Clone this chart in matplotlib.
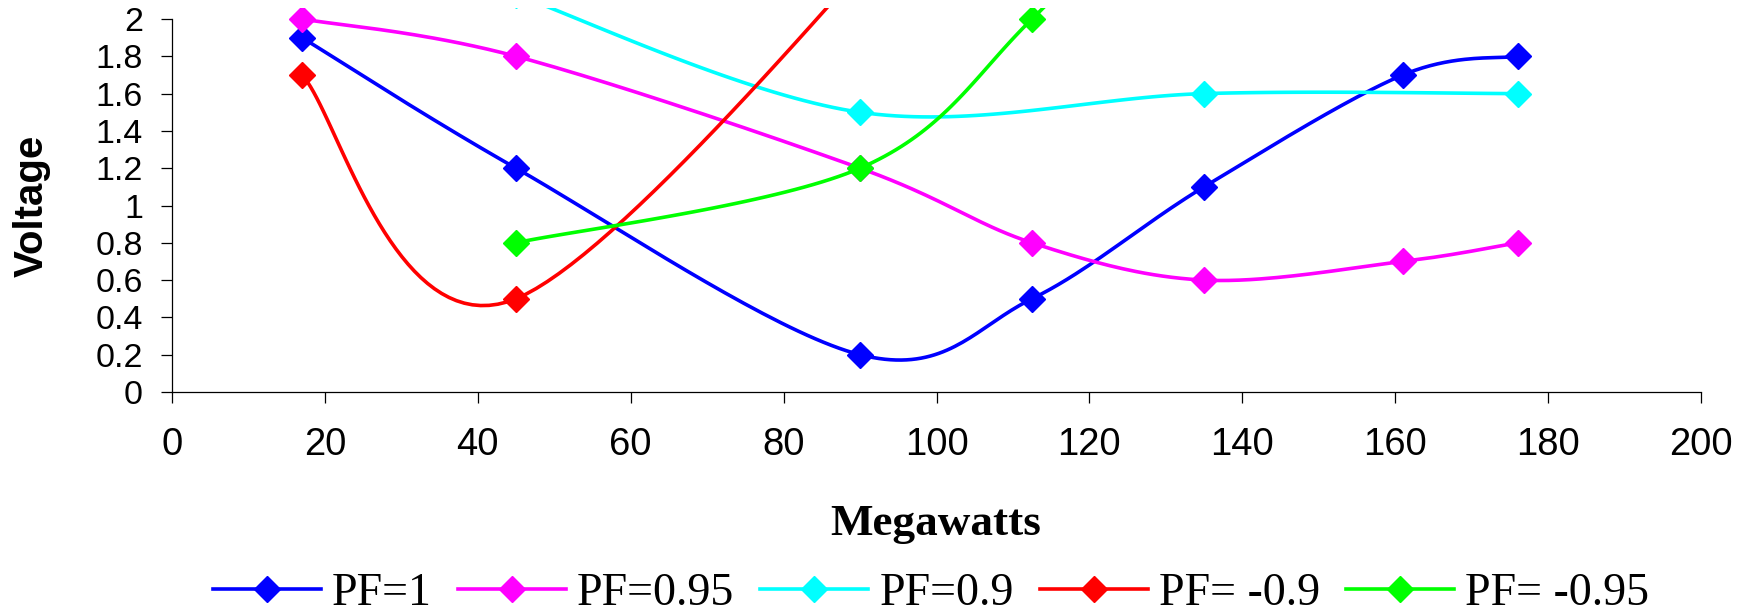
import numpy as np
import matplotlib
matplotlib.use('Agg')
import matplotlib.pyplot as plt
from matplotlib.lines import Line2D

# ---- data ----
x_pf1 = [17, 45, 90, 112.5, 135, 161, 176]
y_pf1 = [1.9, 1.2, 0.2, 0.5, 1.1, 1.7, 1.8]
x_pf095 = [17, 45, 90, 112.5, 135, 161, 176]
y_pf095 = [2.0, 1.8, 1.2, 0.8, 0.6, 0.7, 0.8]
x_pf09 = [45, 90, 135, 176]
y_pf09 = [2.13, 1.5, 1.6, 1.6]
x_pfm09 = [17, 45, 112.5]
y_pfm09 = [1.7, 0.5, 3.3]
x_pfm095 = [45, 90, 112.5, 135]
y_pfm095 = [0.8, 1.2, 2.0, 3.0]

series_labels = ['PF=1', 'PF=0.95', 'PF=0.9', 'PF= -0.9', 'PF= -0.95']
series_colors = ['#0000FF', '#FF00FF', '#00FFFF', '#FF0000', '#00FF00']

x_ticks = [0, 20, 40, 60, 80, 100, 120, 140, 160, 180, 200]
y_ticks = [0, 0.2, 0.4, 0.6, 0.8, 1.0, 1.2, 1.4, 1.6, 1.8, 2.0]
y_tick_labels = ['0', '0.2', '0.4', '0.6', '0.8', '1', '1.2', '1.4', '1.6', '1.8', '2']

x_label = 'Megawatts'
y_label = 'Voltage'


def excel_smooth(xs, ys, n=40):
    """Bezier smoothing similar to Excel's 'smoothed line'."""
    P = np.column_stack([xs, ys]).astype(float)
    m = len(P)
    out = [P[:1]]
    t = np.linspace(0, 1, n)[1:, None]
    for i in range(m - 1):
        p0 = P[i - 1] if i > 0 else P[i]
        p1 = P[i]
        p2 = P[i + 1]
        p3 = P[i + 2] if i + 2 < m else P[i + 1]
        c1 = p1 + (p2 - p0) / 6.0
        c2 = p2 - (p3 - p1) / 6.0
        seg = ((1 - t) ** 3) * p1 + 3 * ((1 - t) ** 2) * t * c1 + 3 * (1 - t) * (t ** 2) * c2 + (t ** 3) * p2
        out.append(seg)
    c = np.vstack(out)
    return c[:, 0], c[:, 1]


W, H = 1754, 615
fig = plt.figure(figsize=(W / 100, H / 100), dpi=100)
left_px, right_px, bottom_px, top_px = 172, 1701, 392, 8
ax = fig.add_axes([left_px / W, 1 - bottom_px / H, (right_px - left_px) / W, (bottom_px - top_px) / H])

px_per_unit = (392 - 19) / 2.0
ax.set_xlim(0, 200)
ax.set_ylim(0, 2 + (19 - top_px) / px_per_unit)

all_x = [x_pf1, x_pf095, x_pf09, x_pfm09, x_pfm095]
all_y = [y_pf1, y_pf095, y_pf09, y_pfm09, y_pfm095]

lw = 2.6
ms = 13
for i, (xs, ys, col) in enumerate(zip(all_x, all_y, series_colors)):
    sx, sy = excel_smooth(xs, ys)
    ax.plot(sx, sy, color=col, lw=lw, solid_joinstyle='round', zorder=2 + i * 0.1)
    ax.plot(xs, ys, ls='none', marker='D', ms=ms, color=col, mec=col, zorder=2 + i * 0.1 + 0.05)

for s in ['top', 'right']:
    ax.spines[s].set_visible(False)
ax.spines['left'].set_bounds(0, 2)
ax.spines['bottom'].set_bounds(0, 200)
for s in ['left', 'bottom']:
    ax.spines[s].set_linewidth(0.9)
    ax.spines[s].set_color('black')

ax.set_xticks(x_ticks)
ax.set_xticklabels([str(v) for v in x_ticks], family='Liberation Sans', fontsize=27.5)
ax.set_yticks(y_ticks)
ax.set_yticklabels(y_tick_labels, family='Liberation Sans', fontsize=24.5)
ax.tick_params(axis='x', direction='out', length=8, width=0.9, pad=17)
ax.tick_params(axis='y', direction='out', length=8, width=0.9, pad=13)

fig.text(32 / W, 1 - 205.5 / H, y_label, rotation=90, ha='center', va='center',
         family='Liberation Sans', fontweight='bold', fontsize=29)
fig.text(936 / W, 1 - 535 / H, x_label, ha='center', va='baseline',
         family='Liberation Serif', fontweight='bold', fontsize=32.5)

handles = [Line2D([], [], color=c, lw=lw, marker='D', ms=ms, mec=c) for c in series_colors]
fig.legend(handles, series_labels, loc='center', bbox_to_anchor=(931 / W, 1 - 594 / H),
           ncol=5, frameon=False, prop={'family': 'Liberation Serif', 'size': 33},
           handlelength=2.36, handletextpad=0.24, columnspacing=0.57, numpoints=1,
           borderpad=0, borderaxespad=0)

fig.savefig('out.png', dpi=100)
